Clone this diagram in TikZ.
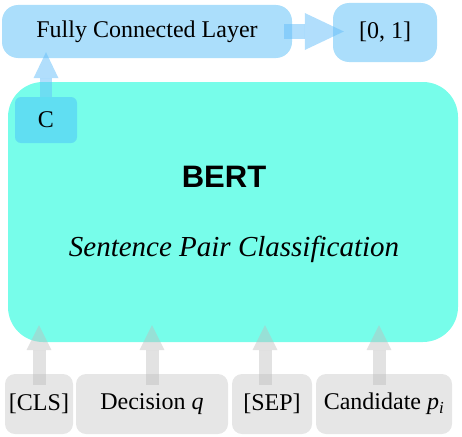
\documentclass[tikz,border=0pt]{standalone}
\usepackage{fontspec}
\setmainfont{Liberation Serif}
\newfontfamily\bertfont{Liberation Sans}
\usepackage{tikz}
\usetikzlibrary{arrows.meta}

\definecolor{fcblue}{RGB}{171,222,251}
\definecolor{arrowblue}{RGB}{100,190,250}
\definecolor{bertcyan}{RGB}{119,253,234}
\definecolor{cblue}{RGB}{96,222,242}
\definecolor{inputgrey}{RGB}{230,230,230}
\definecolor{arrowgrey}{RGB}{190,190,190}

\tikzset{
  box/.style={rounded corners=16pt, inner sep=0pt, font=\fontsize{24}{28}\selectfont},
  inbox/.style={box, fill=inputgrey, rounded corners=10pt, minimum height=60pt},
  upgrey/.style={draw=arrowgrey, draw opacity=0.45, fill opacity=0.45, line width=13pt,
    -{Triangle[width=25pt,length=25pt,line width=0pt,fill=arrowgrey]}},
  upblue/.style={draw=arrowblue, draw opacity=0.5, fill opacity=0.5, line width=12pt,
    -{Triangle[width=25pt,length=26pt,line width=0pt,fill=arrowblue]}},
  rightblue/.style={draw=arrowblue, draw opacity=0.5, fill opacity=0.5, line width=15pt,
    -{Triangle[width=37pt,length=39pt,line width=0pt,fill=arrowblue]}}
}

\begin{document}
\begin{tikzpicture}[x=1pt,y=1pt]
\useasboundingbox (0,0) rectangle (462,-436);

\node[box, fill=fcblue, minimum width=290pt, minimum height=53pt] (fc) at (147,-31.5) {Fully Connected Layer};
\node[box, fill=fcblue, minimum width=104pt, minimum height=59pt] (out) at (385,-32.5) {[0, 1]};

\node[box, fill=bertcyan, rounded corners=35pt, minimum width=450pt, minimum height=260pt] (bert) at (233,-212) {};
\node[font=\bertfont\bfseries\fontsize{31}{36}\selectfont] (bertlabel) at (224,-177) {BERT};
\node[font=\itshape\fontsize{29}{34}\selectfont] (tasklabel) at (234,-249) {Sentence Pair Classification};
\node[box, fill=cblue, rounded corners=6pt, minimum width=62pt, minimum height=46pt] (c) at (46,-120) {C};

\node[inbox, minimum width=68pt] (cls) at (39,-404) {[CLS]};
\node[inbox, minimum width=152pt] (dec) at (152,-404) {Decision \textit{q}};
\node[inbox, minimum width=80pt] (sep) at (272,-404) {[SEP]};
\node[inbox, minimum width=136pt] (cand) at (384,-404) {Candidate \textit{p}\textsubscript{\textit{i}}};

\draw[upgrey] ([yshift=-11pt]cls.north) -- ([yshift=17pt]bert.south -| cls.north);
\draw[upgrey] ([yshift=-11pt]dec.north) -- ([yshift=17pt]bert.south -| dec.north);
\draw[upgrey] ([xshift=-7pt,yshift=-11pt]sep.north) -- ([xshift=-7pt,yshift=17pt]bert.south -| sep.north);
\draw[upgrey] ([xshift=-5pt,yshift=-11pt]cand.north) -- ([xshift=-5pt,yshift=17pt]bert.south -| cand.north);

\draw[upblue] (c.north) -- ([yshift=6pt]fc.south -| c.north);
\draw[rightblue] ([xshift=-8pt]fc.east) -- ([xshift=11pt]out.west |- fc.east);
\end{tikzpicture}
\end{document}
